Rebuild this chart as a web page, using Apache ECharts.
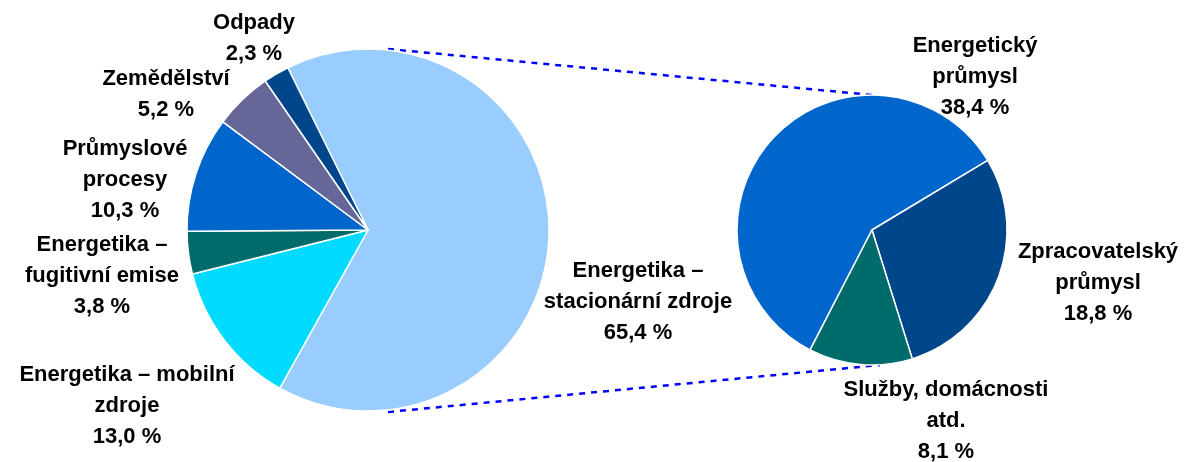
<!DOCTYPE html>
<html>
<head>
<meta charset="utf-8">
<script src="https://cdn.jsdelivr.net/npm/echarts@6/dist/echarts.min.js"></script>
<style>
  html, body { margin: 0; padding: 0; background: #fff; }
  #chart { width: 1190px; height: 462px; }
</style>
</head>
<body>
<div id="chart"></div>
<script>
// Total emissions by sector (%)
const sectorNames = [
  'Energetika –\nstacionární zdroje',
  'Energetika – mobilní\nzdroje',
  'Energetika –\nfugitivní emise',
  'Průmyslové\nprocesy',
  'Zemědělství',
  'Odpady'
];
const sectorValues = [65.4, 13.0, 3.8, 10.3, 5.2, 2.3];
const sectorColors = ['#99ccff', '#00dbff', '#006b6b', '#0066cc', '#666699', '#00468b'];

// Breakdown of stationary sources (% of total)
const stationaryNames = ['Energetický\nprůmysl', 'Zpracovatelský\nprůmysl', 'Služby, domácnosti\natd.'];
const stationaryValues = [38.4, 18.8, 8.1];
const stationaryColors = ['#0066cc', '#00468b', '#006b6b'];

// label anchor points (text centres)
const sectorLabelPos = [[638, 302], [127, 406], [102, 276], [125, 180], [166, 94], [254, 38]];
const stationaryLabelPos = [[975, 77], [1098, 283], [946, 421]];

const LEFT = { cx: 368, cy: 230, r: 181 };
const RIGHT = { cx: 872, cy: 230, r: 135 };

const chart = echarts.init(document.getElementById('chart'));

function fmtPct(v) {
  return v.toFixed(1).replace('.', ',') + ' %';
}

const labelStyle = {
  show: true,
  position: 'outside',
  color: '#000',
  fontFamily: 'Liberation Sans, Arial, sans-serif',
  fontWeight: 'bold',
  fontSize: 22,
  lineHeight: 31,
  align: 'center',
  overflow: 'none',
  formatter: p => p.name + '\n' + fmtPct(p.value)
};

const dash = {
  stroke: '#0000ff',
  lineWidth: 2.5,
  lineDash: [6, 6]
};

const option = {
  animation: false,
  backgroundColor: '#fff',
  graphic: [
    {
      type: 'line',
      shape: { x1: LEFT.cx + 20, y1: LEFT.cy - LEFT.r, x2: RIGHT.cx, y2: RIGHT.cy - RIGHT.r },
      style: dash
    },
    {
      type: 'line',
      shape: { x1: LEFT.cx + 20, y1: LEFT.cy + LEFT.r + 1, x2: RIGHT.cx + 8, y2: RIGHT.cy + RIGHT.r },
      style: dash
    }
  ],
  series: [
    {
      type: 'pie',
      center: [LEFT.cx, LEFT.cy],
      radius: LEFT.r,
      startAngle: 116.3,
      clockwise: true,
      silent: true,
      itemStyle: { borderColor: '#fff', borderWidth: 1.5 },
      label: labelStyle,
      labelLine: { show: false },
      labelLayout: p => ({
        x: sectorLabelPos[p.dataIndex][0],
        y: sectorLabelPos[p.dataIndex][1],
        align: 'center',
        verticalAlign: 'middle'
      }),
      data: sectorNames.map((n, i) => ({
        name: n,
        value: sectorValues[i],
        itemStyle: { color: sectorColors[i] }
      }))
    },
    {
      type: 'pie',
      center: [RIGHT.cx, RIGHT.cy],
      radius: RIGHT.r,
      startAngle: 242.7,
      clockwise: true,
      silent: true,
      itemStyle: { borderColor: '#fff', borderWidth: 1.5 },
      label: labelStyle,
      labelLine: { show: false },
      labelLayout: p => ({
        x: stationaryLabelPos[p.dataIndex][0],
        y: stationaryLabelPos[p.dataIndex][1],
        align: 'center',
        verticalAlign: 'middle'
      }),
      data: stationaryNames.map((n, i) => ({
        name: n,
        value: stationaryValues[i],
        itemStyle: { color: stationaryColors[i] }
      }))
    }
  ]
};

chart.setOption(option);
</script>
</body>
</html>
